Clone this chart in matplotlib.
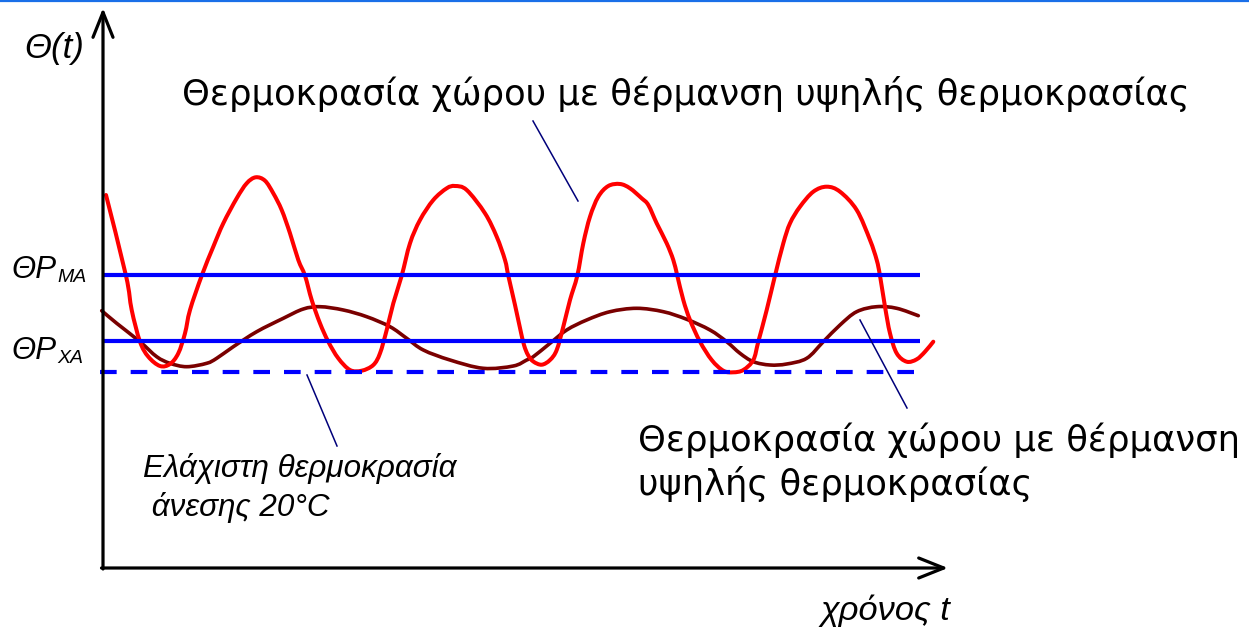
import matplotlib
matplotlib.use('Agg')
import matplotlib.pyplot as plt
from matplotlib.path import Path
from matplotlib.patches import PathPatch

# ---- data (in picture units) ----
red_x = [106, 126, 131.7, 140, 148.3, 160, 170, 178.3, 185, 190, 201.7, 213.3, 223.3,
         236.7, 246.7, 255.7, 265, 273.3, 281.7, 290, 298.3, 305, 311.7, 320, 328.3,
         338.3, 350, 361.7, 373.3, 380, 386.7, 393.3, 401.7, 410, 420, 433.3, 446.7,
         455, 466.7, 485, 496.7, 505, 508.3, 515, 520, 524, 528, 533.3, 541.7, 550,
         556.7, 563.3, 570, 577.3, 583.3, 590, 598.3, 608.3, 620, 630, 641.7, 648.3,
         656.7, 666.7, 673.3, 677.3, 683.3, 690, 700, 711.7, 723.3, 733.3, 743.3,
         753.3, 758.3, 766.7, 775, 783.3, 790, 800, 813.3, 826.7, 840, 856.7, 870,
         876.7, 880, 885, 890, 896.7, 906.7, 916.7, 925, 933.3]
red_y = [195, 275.7, 310, 341.7, 356.7, 366, 364, 353.3, 333.3, 310, 275.7, 246.7, 223.3,
         198.3, 183.3, 177.3, 180.7, 193.3, 210, 233.3, 260, 275.7, 300, 323.3, 341.7,
         358.3, 370, 370.7, 365, 353.3, 330, 303.3, 275.7, 243.3, 220, 200, 188.3,
         186, 190, 213.3, 236.7, 260, 275.7, 305, 328, 345, 355, 361.5, 364.7, 360,
         350, 326.7, 300, 275.7, 243.3, 216.7, 196.7, 186, 184, 188.3, 198.3, 205,
         223.3, 243.3, 260, 275.7, 300, 320, 341.7, 360, 370.7, 372.3, 370,
         360, 341.7, 310, 275.7, 243.3, 223.3, 206.7, 191.7, 186.7, 191.7, 210, 240,
         260, 275.7, 306.7, 333.3, 353.3, 361.7, 359.3, 351.7, 341.7]

maroon_x = [101.7, 116.7, 140, 156.7, 170, 186.7, 206.7, 216.7, 233.3, 256.7, 283.3,
            303.3, 320, 343.3, 366.7, 390, 406.7, 423.3, 450, 483.3, 513.3, 526.7,
            533.3, 550, 566.7, 586.7, 610, 636.7, 663.3, 686.7, 710, 726.7, 740,
            753.3, 770, 786.7, 806.7, 823.3, 840, 856.7, 876.7, 896.7, 918.3]
maroon_y = [310.7, 323.3, 341.7, 356.7, 363.3, 366.7, 363.3, 358.3, 346.7, 331.7, 318.3,
            309, 306.7, 310, 316.7, 326.7, 338.3, 350, 360, 368.3, 366, 360,
            356.7, 343.3, 330, 320, 311.7, 308.3, 311.7, 319.3, 330, 341.7, 353.3,
            361.7, 365, 364, 358.3, 341.7, 325, 311.7, 306.7, 308.3, 315.7]

level_MA = 275
level_XA = 341
level_min = 372

title_text = "Θερμοκρασία χώρου με θέρμανση υψηλής θερμοκρασίας"
lower_text = ["Θερμοκρασία χώρου με θέρμανση", "υψηλής θερμοκρασίας"]
min_text = ["Ελάχιστη θερμοκρασία", " άνεσης 20°C"]
y_label = "Θ(t)"
x_label = "χρόνος t"
level_labels = [("ΘP", "MA"), ("ΘP", "XA")]

# ---- figure ----
W, H = 1249, 629
fig = plt.figure(figsize=(W / 100, H / 100), dpi=100)
ax = fig.add_axes([0, 0, 1, 1])
ax.set_xlim(0, W)
ax.set_ylim(H, 0)
ax.axis('off')
renderer = fig.canvas.get_renderer()


def fit(t, width):
    for _ in range(3):
        bb = t.get_window_extent(renderer)
        t.set_fontsize(t.get_fontsize() * width / bb.width)
    return t.get_fontsize()


def smooth_path(xs, ys):
    """Cubic Bezier path passing through the given points (Catmull-Rom tangents)."""
    pts = list(zip(xs, ys))
    n = len(pts)
    verts = [pts[0]]
    codes = [Path.MOVETO]
    for i in range(n - 1):
        p0 = pts[i - 1] if i > 0 else pts[i]
        p1 = pts[i]
        p2 = pts[i + 1]
        p3 = pts[i + 2] if i + 2 < n else pts[i + 1]
        c1 = (p1[0] + (p2[0] - p0[0]) / 6, p1[1] + (p2[1] - p0[1]) / 6)
        c2 = (p2[0] - (p3[0] - p1[0]) / 6, p2[1] - (p3[1] - p1[1]) / 6)
        verts += [c1, c2, p2]
        codes += [Path.CURVE4] * 3
    return Path(verts, codes)


# thin blue bar at top
ax.axhline(1, color='#1a6fe8', lw=1.6)

# axes with open arrow heads
arrow = dict(arrowstyle='->,head_length=0.9,head_width=0.36', lw=2.3, color='black',
             shrinkA=0, shrinkB=0, mutation_scale=20)
ax.annotate('', xy=(103, 8), xytext=(103, 569), arrowprops=arrow)
ax.annotate('', xy=(948, 568), xytext=(101.5, 568), arrowprops=arrow)

# level lines
ax.plot([103, 920], [level_MA, level_MA], color='#0000ff', lw=3, solid_capstyle='butt')
ax.plot([103, 920], [level_XA, level_XA], color='#0000ff', lw=3, solid_capstyle='butt')
ax.plot([100, 916], [level_min, level_min], color='#0000ff', lw=3,
        dashes=(4.0, 3.36), dash_capstyle='butt')

# curves
ax.add_patch(PathPatch(smooth_path(maroon_x, maroon_y), fill=False, edgecolor='#7a0000',
                       lw=2.6, joinstyle='round', capstyle='round'))
ax.add_patch(PathPatch(smooth_path(red_x, red_y), fill=False, edgecolor='#ff0000',
                       lw=2.9, joinstyle='round', capstyle='round'))

# leader lines
navy = '#00007a'
ax.plot([533, 578], [121, 201], color=navy, lw=1.1)
ax.plot([307, 337], [375, 446], color=navy, lw=1.1)
ax.plot([860, 907], [320, 408], color=navy, lw=1.1)

# texts (Century Gothic-like)
gfont = 'DejaVu Sans'
t = ax.text(182, 105, title_text, family=gfont, fontsize=24, va='baseline', ha='left')
fit(t, 1008)
t2 = ax.text(638, 451, lower_text[0], family=gfont, fontsize=24, va='baseline', ha='left')
fs = fit(t2, 602)
ax.text(638, 495, lower_text[1], family=gfont, fontsize=fs, va='baseline', ha='left')

ifont = 'Liberation Sans'
t3 = ax.text(143, 477, min_text[0], family=ifont, style='italic', fontsize=19,
             va='baseline', ha='left')
fs = fit(t3, 314)
ax.text(143, 516, min_text[1], family=ifont, style='italic', fontsize=fs,
        va='baseline', ha='left')

t4 = ax.text(24, 58, y_label, family=ifont, style='italic', fontsize=22, va='baseline')
fit(t4, 60)
t5 = ax.text(821, 620, x_label, family=ifont, style='italic', fontsize=22, va='baseline')
fit(t5, 130)

for (main, sub), yb in zip(level_labels, [278, 359]):
    tm = ax.text(11, yb, main, family=ifont, style='italic', fontsize=22.5, va='baseline')
    ax.annotate(sub, xy=(1, 0), xycoords=tm, xytext=(1, -1), textcoords='offset points',
                family=ifont, style='italic', fontsize=14, va='bottom', ha='left')

fig.savefig('out.png', dpi=100)
